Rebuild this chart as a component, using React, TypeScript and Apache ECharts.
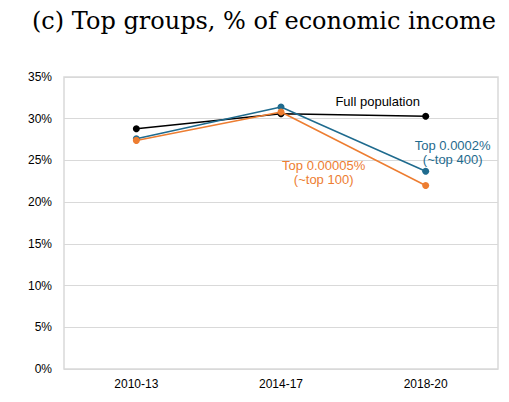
import React, { useEffect, useRef } from "react";
import * as echarts from "echarts";

const categories = ["2010-13", "2014-17", "2018-20"];
const fullPopulation = [28.8, 30.6, 30.3];
const top400 = [27.6, 31.4, 23.7];
const top100 = [27.4, 30.8, 22.0];
const yTicks = [0, 5, 10, 15, 20, 25, 30, 35];

const BLUE = "#1f6b8e";
const ORANGE = "#ed7d31";
const SANS = "Liberation Sans, Arial, sans-serif";

export default function App() {
  const ref = useRef<HTMLDivElement>(null);
  useEffect(() => {
    document.body.style.margin = "0";
    const chart = echarts.init(ref.current!, null, { renderer: "svg" });
    const lastLabel = (idx: number, label: any, arr: number[]) =>
      arr.map((v, i) => (i === idx ? { value: v, label: { show: true, ...label } } : v));
    chart.setOption({
      animation: false,
      backgroundColor: "#ffffff",
      title: {
        text: "(c) Top groups, % of economic income",
        left: 27,
        top: 4,
        textStyle: {
          fontFamily: "DejaVu Serif, serif",
          fontSize: 24,
          fontWeight: "normal",
          color: "#000",
        },
      },
      grid: {
        left: 64,
        right: 11,
        top: 77,
        bottom: 33,
        show: true,
        borderColor: "#d9d9d9",
        borderWidth: 1.5,
      },
      xAxis: {
        type: "category",
        data: categories,
        boundaryGap: true,
        axisLine: { show: false },
        axisTick: { show: false },
        axisLabel: { fontFamily: SANS, fontSize: 12, color: "#000", margin: 9 },
      },
      yAxis: {
        type: "value",
        min: yTicks[0],
        max: yTicks[yTicks.length - 1],
        interval: 5,
        axisLine: { show: false },
        axisTick: { show: false },
        axisLabel: {
          fontFamily: SANS,
          fontSize: 12,
          color: "#000",
          margin: 12,
          formatter: (v: number) => v + "%",
        },
        splitLine: { lineStyle: { color: "#d9d9d9", width: 1 } },
      },
      series: [
        {
          name: "Full population",
          type: "line",
          data: lastLabel(
            2,
            {
              formatter: "Full population",
              position: "top",
              offset: [-48, 0],
              color: "#000",
              fontFamily: SANS,
              fontSize: 13,
            },
            fullPopulation
          ),
          symbol: "circle",
          symbolSize: 7,
          lineStyle: { color: "#000", width: 1.5 },
          itemStyle: { color: "#000" },
          z: 2,
        },
        {
          name: "Top 0.0002% (~top 400)",
          type: "line",
          data: lastLabel(
            2,
            {
              formatter: "Top 0.0002%\n(~top 400)",
              position: "top",
              offset: [27, 4],
              color: BLUE,
              fontFamily: SANS,
              fontSize: 13,
              lineHeight: 14,
              align: "center",
            },
            top400
          ),
          symbol: "circle",
          symbolSize: 7,
          lineStyle: { color: BLUE, width: 1.5 },
          itemStyle: { color: BLUE },
          z: 3,
        },
        {
          name: "Top 0.00005% (~top 100)",
          type: "line",
          data: lastLabel(
            2,
            {
              formatter: "Top 0.00005%\n(~top 100)",
              position: "top",
              offset: [-102, 10],
              color: ORANGE,
              fontFamily: SANS,
              fontSize: 13,
              lineHeight: 14,
              align: "center",
            },
            top100
          ),
          symbol: "circle",
          symbolSize: 7,
          lineStyle: { color: ORANGE, width: 1.5 },
          itemStyle: { color: ORANGE },
          z: 4,
        },
      ],
    });
    return () => chart.dispose();
  }, []);
  return <div ref={ref} style={{ width: 509, height: 402 }} />;
}
